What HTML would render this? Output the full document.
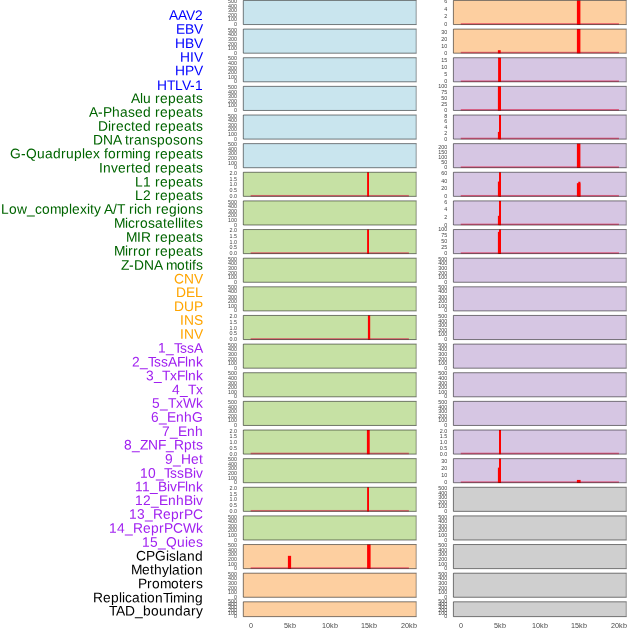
<!DOCTYPE html><html><head><meta charset="utf-8"><title>plot</title><style>html,body{margin:0;padding:0;background:#fff}svg{display:block}text{font-family:"Liberation Sans",sans-serif}</style></head><body>
<svg width="630" height="630" viewBox="0 0 630 630" style="will-change:transform">
<rect width="630" height="630" fill="#fff"/>
<g font-size="13.8">
<text transform="rotate(0.05 202.9 19.90)" x="168.9 177.9 185.9 194.9" y="19.90" fill="#0000ff">AAV2</text>
<text transform="rotate(0.05 202.9 33.75)" x="175.9 184.9 193.9" y="33.75" fill="#0000ff">EBV</text>
<text transform="rotate(0.05 202.9 47.91)" x="174.9 184.9 193.9" y="47.91" fill="#0000ff">HBV</text>
<text transform="rotate(0.05 202.9 61.66)" x="179.9 189.9 193.9" y="61.66" fill="#0000ff">HIV</text>
<text transform="rotate(0.05 202.9 75.31)" x="174.9 184.9 193.9" y="75.31" fill="#0000ff">HPV</text>
<text transform="rotate(0.05 202.9 89.96)" x="156.9 166.9 174.9 181.9 189.9 194.9" y="89.96" fill="#0000ff">HTLV-1</text>
<text transform="rotate(0.05 202.9 103.02)" x="130.9 139.9 142.9 150.9 154.9 159.9 167.9 175.9 183.9 191.9 195.9" y="103.02" fill="#006400">Alu repeats</text>
<text transform="rotate(0.05 202.9 116.87)" x="88.9 97.9 102.9 111.9 119.9 127.9 134.9 142.9 150.9 154.9 159.9 167.9 175.9 183.9 191.9 195.9" y="116.87" fill="#006400">A-Phased repeats</text>
<text transform="rotate(0.05 202.9 130.72)" x="97.9 107.9 110.9 115.9 123.9 130.9 134.9 142.9 150.9 154.9 159.9 167.9 175.9 183.9 191.9 195.9" y="130.72" fill="#006400">Directed repeats</text>
<text transform="rotate(0.05 202.9 144.58)" x="92.9 102.9 112.9 120.9 124.9 128.9 133.9 141.9 149.9 156.9 164.9 172.9 179.9 187.9 195.9" y="144.58" fill="#006400">DNA transposons</text>
<text transform="rotate(0.05 202.9 158.43)" x="9.9 20.9 25.9 36.9 44.9 52.9 60.9 65.9 73.9 81.9 84.9 92.9 99.9 103.9 107.9 115.9 120.9 131.9 134.9 142.9 150.9 154.9 159.9 167.9 175.9 183.9 191.9 195.9" y="158.43" fill="#006400">G-Quadruplex forming repeats</text>
<text transform="rotate(0.05 202.9 172.58)" x="98.9 102.9 110.9 117.9 125.9 130.9 134.9 142.9 150.9 154.9 159.9 167.9 175.9 183.9 191.9 195.9" y="172.58" fill="#006400">Inverted repeats</text>
<text transform="rotate(0.05 202.9 186.44)" x="134.9 142.9 150.9 154.9 159.9 167.9 175.9 183.9 191.9 195.9" y="186.44" fill="#006400">L1 repeats</text>
<text transform="rotate(0.05 202.9 199.99)" x="134.9 142.9 150.9 154.9 159.9 167.9 175.9 183.9 191.9 195.9" y="199.99" fill="#006400">L2 repeats</text>
<text transform="rotate(0.05 202.9 213.84)" x="0.9 8.9 16.9 26.9 34.9 41.9 49.9 60.9 68.9 71.9 79.9 86.9 89.9 93.9 100.9 103.9 112.9 116.9 124.9 128.9 133.9 136.9 143.9 151.9 155.9 160.9 168.9 176.9 179.9 187.9 195.9" y="213.84" fill="#006400">Low_complexity A/T rich regions</text>
<text transform="rotate(0.05 202.9 227.89)" x="113.9 124.9 127.9 134.9 139.9 147.9 154.9 162.9 166.9 174.9 177.9 180.9 183.9 187.9 195.9" y="227.89" fill="#006400">Microsatellites</text>
<text transform="rotate(0.05 202.9 241.85)" x="125.9 136.9 140.9 150.9 154.9 159.9 167.9 175.9 183.9 191.9 195.9" y="241.85" fill="#006400">MIR repeats</text>
<text transform="rotate(0.05 202.9 255.70)" x="113.9 124.9 127.9 132.9 137.9 145.9 150.9 154.9 159.9 167.9 175.9 183.9 191.9 195.9" y="255.70" fill="#006400">Mirror repeats</text>
<text transform="rotate(0.05 202.9 269.75)" x="120.9 128.9 133.9 143.9 153.9 161.9 165.9 176.9 184.9 188.9 191.9 195.9" y="269.75" fill="#006400">Z-DNA motifs</text>
<text transform="rotate(0.05 202.9 283.61)" x="173.9 183.9 193.9" y="283.61" fill="#ffa500">CNV</text>
<text transform="rotate(0.05 202.9 296.96)" x="175.9 185.9 194.9" y="296.96" fill="#ffa500">DEL</text>
<text transform="rotate(0.05 202.9 311.11)" x="173.9 183.9 193.9" y="311.11" fill="#ffa500">DUP</text>
<text transform="rotate(0.05 202.9 324.87)" x="179.9 183.9 193.9" y="324.87" fill="#ffa500">INS</text>
<text transform="rotate(0.05 202.9 338.82)" x="179.9 183.9 193.9" y="338.82" fill="#ffa500">INV</text>
<text transform="rotate(0.05 202.9 352.67)" x="157.9 165.9 173.9 179.9 186.9 193.9" y="352.67" fill="#a020f0">1_TssA</text>
<text transform="rotate(0.05 202.9 366.52)" x="131.9 139.9 147.9 153.9 160.9 167.9 176.9 184.9 187.9 195.9" y="366.52" fill="#a020f0">2_TssAFlnk</text>
<text transform="rotate(0.05 202.9 380.38)" x="145.9 153.9 161.9 169.9 176.9 184.9 187.9 195.9" y="380.38" fill="#a020f0">3_TxFlnk</text>
<text transform="rotate(0.05 202.9 394.23)" x="171.9 179.9 187.9 195.9" y="394.23" fill="#a020f0">4_Tx</text>
<text transform="rotate(0.05 202.9 407.78)" x="151.9 159.9 167.9 175.9 182.9 195.9" y="407.78" fill="#a020f0">5_TxWk</text>
<text transform="rotate(0.05 202.9 421.84)" x="150.9 158.9 166.9 175.9 183.9 191.9" y="421.84" fill="#a020f0">6_EnhG</text>
<text transform="rotate(0.05 202.9 435.99)" x="161.9 169.9 177.9 186.9 194.9" y="435.99" fill="#a020f0">7_Enh</text>
<text transform="rotate(0.05 202.9 449.64)" x="123.9 131.9 139.9 147.9 157.9 165.9 173.9 183.9 191.9 195.9" y="449.64" fill="#a020f0">8_ZNF_Rpts</text>
<text transform="rotate(0.05 202.9 463.70)" x="164.9 172.9 180.9 190.9 198.9" y="463.70" fill="#a020f0">9_Het</text>
<text transform="rotate(0.05 202.9 477.85)" x="139.9 147.9 155.9 163.9 169.9 176.9 183.9 192.9 195.9" y="477.85" fill="#a020f0">10_TssBiv</text>
<text transform="rotate(0.05 202.9 491.40)" x="134.9 141.9 149.9 157.9 166.9 169.9 176.9 184.9 187.9 195.9" y="491.40" fill="#a020f0">11_BivFlnk</text>
<text transform="rotate(0.05 202.9 504.95)" x="134.9 142.9 150.9 158.9 167.9 175.9 183.9 192.9 195.9" y="504.95" fill="#a020f0">12_EnhBiv</text>
<text transform="rotate(0.05 202.9 518.91)" x="128.9 136.9 144.9 152.9 162.9 170.9 178.9 183.9 192.9" y="518.91" fill="#a020f0">13_ReprPC</text>
<text transform="rotate(0.05 202.9 532.76)" x="108.9 116.9 124.9 132.9 142.9 150.9 158.9 163.9 172.9 182.9 195.9" y="532.76" fill="#a020f0">14_ReprPCWk</text>
<text transform="rotate(0.05 202.9 546.81)" x="141.9 149.9 157.9 165.9 176.9 184.9 187.9 195.9" y="546.81" fill="#a020f0">15_Quies</text>
<text transform="rotate(0.05 202.9 560.67)" x="135.9 145.9 154.9 165.9 168.9 175.9 178.9 186.9 194.9" y="560.67" fill="#000000">CPGisland</text>
<text transform="rotate(0.05 202.9 574.42)" x="130.9 141.9 149.9 153.9 161.9 168.9 171.9 179.9 183.9 186.9 194.9" y="574.42" fill="#000000">Methylation</text>
<text transform="rotate(0.05 202.9 588.37)" x="137.9 146.9 151.9 159.9 170.9 178.9 182.9 190.9 195.9" y="588.37" fill="#000000">Promoters</text>
<text transform="rotate(0.05 202.9 602.43)" x="92.9 102.9 110.9 118.9 121.9 124.9 131.9 139.9 143.9 146.9 154.9 162.9 169.9 172.9 183.9 186.9 194.9" y="602.43" fill="#000000">ReplicationTiming</text>
<text transform="rotate(0.05 202.9 615.58)" x="108.9 115.9 124.9 134.9 142.9 150.9 158.9 166.9 174.9 182.9 190.9 195.9" y="615.58" fill="#000000">TAD_boundary</text>
</g>
<rect x="243.30" y="0.45" width="172.90" height="24.10" fill="#c9e5ee"/>
<path d="M416.20 0.45H243.30V24.55H416.20" fill="none" stroke="#000" stroke-width="0.8" stroke-opacity="0.64" stroke-linecap="square"/>
<path d="M416.20 0.85V24.15" fill="none" stroke="#000" stroke-width="0.8" stroke-opacity="0.48"/>
<g font-size="5.4" text-anchor="end" fill="#444444">
<text x="237.10" y="3">500</text>
<text x="237.10" y="8">400</text>
<text x="237.10" y="12">300</text>
<text x="237.10" y="17">200</text>
<text x="237.10" y="21">100</text>
<text x="237.10" y="26">0</text>
</g>
<rect x="243.30" y="29.09" width="172.90" height="24.10" fill="#c9e5ee"/>
<path d="M416.20 29.09H243.30V53.19H416.20" fill="none" stroke="#000" stroke-width="0.8" stroke-opacity="0.64" stroke-linecap="square"/>
<path d="M416.20 29.49V52.79" fill="none" stroke="#000" stroke-width="0.8" stroke-opacity="0.48"/>
<g font-size="5.4" text-anchor="end" fill="#444444">
<text x="237.10" y="32">500</text>
<text x="237.10" y="36">400</text>
<text x="237.10" y="41">300</text>
<text x="237.10" y="46">200</text>
<text x="237.10" y="50">100</text>
<text x="237.10" y="55">0</text>
</g>
<rect x="243.30" y="57.72" width="172.90" height="24.10" fill="#c9e5ee"/>
<path d="M416.20 57.72H243.30V81.82H416.20" fill="none" stroke="#000" stroke-width="0.8" stroke-opacity="0.64" stroke-linecap="square"/>
<path d="M416.20 58.12V81.42" fill="none" stroke="#000" stroke-width="0.8" stroke-opacity="0.48"/>
<g font-size="5.4" text-anchor="end" fill="#444444">
<text x="237.10" y="60">500</text>
<text x="237.10" y="65">400</text>
<text x="237.10" y="70">300</text>
<text x="237.10" y="74">200</text>
<text x="237.10" y="79">100</text>
<text x="237.10" y="83">0</text>
</g>
<rect x="243.30" y="86.36" width="172.90" height="24.10" fill="#c9e5ee"/>
<path d="M416.20 86.36H243.30V110.46H416.20" fill="none" stroke="#000" stroke-width="0.8" stroke-opacity="0.64" stroke-linecap="square"/>
<path d="M416.20 86.76V110.06" fill="none" stroke="#000" stroke-width="0.8" stroke-opacity="0.48"/>
<g font-size="5.4" text-anchor="end" fill="#444444">
<text x="237.10" y="89">500</text>
<text x="237.10" y="94">400</text>
<text x="237.10" y="98">300</text>
<text x="237.10" y="103">200</text>
<text x="237.10" y="107">100</text>
<text x="237.10" y="112">0</text>
</g>
<rect x="243.30" y="115.00" width="172.90" height="24.10" fill="#c9e5ee"/>
<path d="M416.20 115.00H243.30V139.10H416.20" fill="none" stroke="#000" stroke-width="0.8" stroke-opacity="0.64" stroke-linecap="square"/>
<path d="M416.20 115.40V138.70" fill="none" stroke="#000" stroke-width="0.8" stroke-opacity="0.48"/>
<g font-size="5.4" text-anchor="end" fill="#444444">
<text x="237.10" y="118">500</text>
<text x="237.10" y="122">400</text>
<text x="237.10" y="127">300</text>
<text x="237.10" y="131">200</text>
<text x="237.10" y="136">100</text>
<text x="237.10" y="141">0</text>
</g>
<rect x="243.30" y="143.63" width="172.90" height="24.10" fill="#c9e5ee"/>
<path d="M416.20 143.63H243.30V167.73H416.20" fill="none" stroke="#000" stroke-width="0.8" stroke-opacity="0.64" stroke-linecap="square"/>
<path d="M416.20 144.03V167.33" fill="none" stroke="#000" stroke-width="0.8" stroke-opacity="0.48"/>
<g font-size="5.4" text-anchor="end" fill="#444444">
<text x="237.10" y="146">500</text>
<text x="237.10" y="151">400</text>
<text x="237.10" y="155">300</text>
<text x="237.10" y="160">200</text>
<text x="237.10" y="165">100</text>
<text x="237.10" y="169">0</text>
</g>
<rect x="243.30" y="172.27" width="172.90" height="24.10" fill="#c6e1a4"/>
<rect x="250.65" y="194.97" width="158.25" height="1.5" fill="#e11e48" fill-opacity="0.62"/>
<rect x="367.10" y="172.27" width="1.90" height="24.20" fill="#ff0000"/>
<path d="M416.20 172.27H243.30V196.37H416.20" fill="none" stroke="#000" stroke-width="0.8" stroke-opacity="0.64" stroke-linecap="square"/>
<path d="M416.20 172.67V195.97" fill="none" stroke="#000" stroke-width="0.8" stroke-opacity="0.48"/>
<g font-size="5.4" text-anchor="end" fill="#444444">
<text x="237.10" y="175">2.0</text>
<text x="237.10" y="181">1.5</text>
<text x="237.10" y="186">1.0</text>
<text x="237.10" y="192">0.5</text>
<text x="237.10" y="198">0.0</text>
</g>
<rect x="243.30" y="200.90" width="172.90" height="24.10" fill="#c6e1a4"/>
<path d="M416.20 200.90H243.30V225.00H416.20" fill="none" stroke="#000" stroke-width="0.8" stroke-opacity="0.64" stroke-linecap="square"/>
<path d="M416.20 201.30V224.60" fill="none" stroke="#000" stroke-width="0.8" stroke-opacity="0.48"/>
<g font-size="5.4" text-anchor="end" fill="#444444">
<text x="237.10" y="204">500</text>
<text x="237.10" y="208">400</text>
<text x="237.10" y="213">300</text>
<text x="237.10" y="217">200</text>
<text x="237.10" y="222">100</text>
<text x="237.10" y="227">0</text>
</g>
<rect x="243.30" y="229.54" width="172.90" height="24.10" fill="#c6e1a4"/>
<rect x="250.65" y="252.24" width="158.25" height="1.5" fill="#e11e48" fill-opacity="0.62"/>
<rect x="367.10" y="229.54" width="1.90" height="24.20" fill="#ff0000"/>
<path d="M416.20 229.54H243.30V253.64H416.20" fill="none" stroke="#000" stroke-width="0.8" stroke-opacity="0.64" stroke-linecap="square"/>
<path d="M416.20 229.94V253.24" fill="none" stroke="#000" stroke-width="0.8" stroke-opacity="0.48"/>
<g font-size="5.4" text-anchor="end" fill="#444444">
<text x="237.10" y="232">2.0</text>
<text x="237.10" y="238">1.5</text>
<text x="237.10" y="244">1.0</text>
<text x="237.10" y="249">0.5</text>
<text x="237.10" y="255">0.0</text>
</g>
<rect x="243.30" y="258.18" width="172.90" height="24.10" fill="#c6e1a4"/>
<path d="M416.20 258.18H243.30V282.28H416.20" fill="none" stroke="#000" stroke-width="0.8" stroke-opacity="0.64" stroke-linecap="square"/>
<path d="M416.20 258.58V281.88" fill="none" stroke="#000" stroke-width="0.8" stroke-opacity="0.48"/>
<g font-size="5.4" text-anchor="end" fill="#444444">
<text x="237.10" y="261">500</text>
<text x="237.10" y="265">400</text>
<text x="237.10" y="270">300</text>
<text x="237.10" y="275">200</text>
<text x="237.10" y="279">100</text>
<text x="237.10" y="284">0</text>
</g>
<rect x="243.30" y="286.81" width="172.90" height="24.10" fill="#c6e1a4"/>
<path d="M416.20 286.81H243.30V310.91H416.20" fill="none" stroke="#000" stroke-width="0.8" stroke-opacity="0.64" stroke-linecap="square"/>
<path d="M416.20 287.21V310.51" fill="none" stroke="#000" stroke-width="0.8" stroke-opacity="0.48"/>
<g font-size="5.4" text-anchor="end" fill="#444444">
<text x="237.10" y="289">500</text>
<text x="237.10" y="293">400</text>
<text x="237.10" y="299">300</text>
<text x="237.10" y="303">200</text>
<text x="237.10" y="308">100</text>
<text x="237.10" y="312">0</text>
</g>
<rect x="243.30" y="315.45" width="172.90" height="24.10" fill="#c6e1a4"/>
<rect x="250.65" y="338.15" width="158.25" height="1.5" fill="#e11e48" fill-opacity="0.62"/>
<rect x="367.90" y="315.45" width="2.30" height="24.20" fill="#ff0000"/>
<path d="M416.20 315.45H243.30V339.55H416.20" fill="none" stroke="#000" stroke-width="0.8" stroke-opacity="0.64" stroke-linecap="square"/>
<path d="M416.20 315.85V339.15" fill="none" stroke="#000" stroke-width="0.8" stroke-opacity="0.48"/>
<g font-size="5.4" text-anchor="end" fill="#444444">
<text x="237.10" y="318">2.0</text>
<text x="237.10" y="324">1.5</text>
<text x="237.10" y="330">1.0</text>
<text x="237.10" y="335">0.5</text>
<text x="237.10" y="341">0.0</text>
</g>
<rect x="243.30" y="344.09" width="172.90" height="24.10" fill="#c6e1a4"/>
<path d="M416.20 344.09H243.30V368.19H416.20" fill="none" stroke="#000" stroke-width="0.8" stroke-opacity="0.64" stroke-linecap="square"/>
<path d="M416.20 344.49V367.79" fill="none" stroke="#000" stroke-width="0.8" stroke-opacity="0.48"/>
<g font-size="5.4" text-anchor="end" fill="#444444">
<text x="237.10" y="347">500</text>
<text x="237.10" y="351">400</text>
<text x="237.10" y="356">300</text>
<text x="237.10" y="361">200</text>
<text x="237.10" y="365">100</text>
<text x="237.10" y="370">0</text>
</g>
<rect x="243.30" y="372.72" width="172.90" height="24.10" fill="#c6e1a4"/>
<path d="M416.20 372.72H243.30V396.82H416.20" fill="none" stroke="#000" stroke-width="0.8" stroke-opacity="0.64" stroke-linecap="square"/>
<path d="M416.20 373.12V396.42" fill="none" stroke="#000" stroke-width="0.8" stroke-opacity="0.48"/>
<g font-size="5.4" text-anchor="end" fill="#444444">
<text x="237.10" y="375">500</text>
<text x="237.10" y="380">400</text>
<text x="237.10" y="385">300</text>
<text x="237.10" y="389">200</text>
<text x="237.10" y="394">100</text>
<text x="237.10" y="398">0</text>
</g>
<rect x="243.30" y="401.36" width="172.90" height="24.10" fill="#c6e1a4"/>
<path d="M416.20 401.36H243.30V425.46H416.20" fill="none" stroke="#000" stroke-width="0.8" stroke-opacity="0.64" stroke-linecap="square"/>
<path d="M416.20 401.76V425.06" fill="none" stroke="#000" stroke-width="0.8" stroke-opacity="0.48"/>
<g font-size="5.4" text-anchor="end" fill="#444444">
<text x="237.10" y="404">500</text>
<text x="237.10" y="409">400</text>
<text x="237.10" y="413">300</text>
<text x="237.10" y="418">200</text>
<text x="237.10" y="422">100</text>
<text x="237.10" y="427">0</text>
</g>
<rect x="243.30" y="430.00" width="172.90" height="24.10" fill="#c6e1a4"/>
<rect x="250.65" y="452.70" width="158.25" height="1.5" fill="#e11e48" fill-opacity="0.62"/>
<rect x="366.90" y="430.00" width="2.80" height="24.20" fill="#ff0000"/>
<path d="M416.20 430.00H243.30V454.10H416.20" fill="none" stroke="#000" stroke-width="0.8" stroke-opacity="0.64" stroke-linecap="square"/>
<path d="M416.20 430.40V453.70" fill="none" stroke="#000" stroke-width="0.8" stroke-opacity="0.48"/>
<g font-size="5.4" text-anchor="end" fill="#444444">
<text x="237.10" y="433">2.0</text>
<text x="237.10" y="438">1.5</text>
<text x="237.10" y="444">1.0</text>
<text x="237.10" y="450">0.5</text>
<text x="237.10" y="456">0.0</text>
</g>
<rect x="243.30" y="458.63" width="172.90" height="24.10" fill="#c6e1a4"/>
<path d="M416.20 458.63H243.30V482.73H416.20" fill="none" stroke="#000" stroke-width="0.8" stroke-opacity="0.64" stroke-linecap="square"/>
<path d="M416.20 459.03V482.33" fill="none" stroke="#000" stroke-width="0.8" stroke-opacity="0.48"/>
<g font-size="5.4" text-anchor="end" fill="#444444">
<text x="237.10" y="461">500</text>
<text x="237.10" y="466">400</text>
<text x="237.10" y="470">300</text>
<text x="237.10" y="475">200</text>
<text x="237.10" y="480">100</text>
<text x="237.10" y="484">0</text>
</g>
<rect x="243.30" y="487.27" width="172.90" height="24.10" fill="#c6e1a4"/>
<rect x="250.65" y="509.97" width="158.25" height="1.5" fill="#e11e48" fill-opacity="0.62"/>
<rect x="367.10" y="487.27" width="1.90" height="24.20" fill="#ff0000"/>
<path d="M416.20 487.27H243.30V511.37H416.20" fill="none" stroke="#000" stroke-width="0.8" stroke-opacity="0.64" stroke-linecap="square"/>
<path d="M416.20 487.67V510.97" fill="none" stroke="#000" stroke-width="0.8" stroke-opacity="0.48"/>
<g font-size="5.4" text-anchor="end" fill="#444444">
<text x="237.10" y="490">2.0</text>
<text x="237.10" y="496">1.5</text>
<text x="237.10" y="501">1.0</text>
<text x="237.10" y="507">0.5</text>
<text x="237.10" y="513">0.0</text>
</g>
<rect x="243.30" y="515.90" width="172.90" height="24.10" fill="#c6e1a4"/>
<path d="M416.20 515.90H243.30V540.00H416.20" fill="none" stroke="#000" stroke-width="0.8" stroke-opacity="0.64" stroke-linecap="square"/>
<path d="M416.20 516.30V539.60" fill="none" stroke="#000" stroke-width="0.8" stroke-opacity="0.48"/>
<g font-size="5.4" text-anchor="end" fill="#444444">
<text x="237.10" y="519">500</text>
<text x="237.10" y="523">400</text>
<text x="237.10" y="528">300</text>
<text x="237.10" y="532">200</text>
<text x="237.10" y="537">100</text>
<text x="237.10" y="542">0</text>
</g>
<rect x="243.30" y="544.54" width="172.90" height="24.10" fill="#fdcfa0"/>
<rect x="250.65" y="567.24" width="158.25" height="1.5" fill="#e11e48" fill-opacity="0.62"/>
<rect x="287.90" y="555.84" width="3.20" height="12.90" fill="#ff0000"/>
<rect x="367.10" y="544.54" width="3.50" height="24.20" fill="#ff0000"/>
<path d="M416.20 544.54H243.30V568.64H416.20" fill="none" stroke="#000" stroke-width="0.8" stroke-opacity="0.64" stroke-linecap="square"/>
<path d="M416.20 544.94V568.24" fill="none" stroke="#000" stroke-width="0.8" stroke-opacity="0.48"/>
<g font-size="5.4" text-anchor="end" fill="#444444">
<text x="237.10" y="547">500</text>
<text x="237.10" y="552">400</text>
<text x="237.10" y="556">300</text>
<text x="237.10" y="561">200</text>
<text x="237.10" y="566">100</text>
<text x="237.10" y="570">0</text>
</g>
<rect x="243.30" y="573.18" width="172.90" height="24.10" fill="#fdcfa0"/>
<path d="M416.20 573.18H243.30V597.28H416.20" fill="none" stroke="#000" stroke-width="0.8" stroke-opacity="0.64" stroke-linecap="square"/>
<path d="M416.20 573.58V596.88" fill="none" stroke="#000" stroke-width="0.8" stroke-opacity="0.48"/>
<g font-size="5.4" text-anchor="end" fill="#444444">
<text x="237.10" y="576">500</text>
<text x="237.10" y="580">400</text>
<text x="237.10" y="585">300</text>
<text x="237.10" y="590">200</text>
<text x="237.10" y="594">100</text>
<text x="237.10" y="599">0</text>
</g>
<rect x="243.30" y="601.81" width="172.90" height="14.80" fill="#fdcfa0"/>
<path d="M416.20 601.81H243.30V616.61H416.20" fill="none" stroke="#000" stroke-width="0.8" stroke-opacity="0.64" stroke-linecap="square"/>
<path d="M416.20 602.21V616.21" fill="none" stroke="#000" stroke-width="0.8" stroke-opacity="0.48"/>
<g font-size="5.4" text-anchor="end" fill="#444444">
<text x="237.10" y="603">500</text>
<text x="237.10" y="606">400</text>
<text x="237.10" y="609">300</text>
<text x="237.10" y="612">200</text>
<text x="237.10" y="615">100</text>
<text x="237.10" y="618">0</text>
</g>
<rect x="453.40" y="0.45" width="172.85" height="24.10" fill="#fdcfa0"/>
<rect x="460.75" y="23.15" width="158.20" height="1.5" fill="#e11e48" fill-opacity="0.62"/>
<rect x="576.90" y="0.45" width="3.50" height="24.20" fill="#ff0000"/>
<path d="M626.25 0.45H453.40V24.55H626.25" fill="none" stroke="#000" stroke-width="0.8" stroke-opacity="0.64" stroke-linecap="square"/>
<path d="M626.25 0.85V24.15" fill="none" stroke="#000" stroke-width="0.8" stroke-opacity="0.48"/>
<g font-size="5.4" text-anchor="end" fill="#444444">
<text x="447.20" y="3">6</text>
<text x="447.20" y="11">4</text>
<text x="447.20" y="18">2</text>
<text x="447.20" y="26">0</text>
</g>
<rect x="453.40" y="29.09" width="172.85" height="24.10" fill="#fdcfa0"/>
<rect x="460.75" y="51.79" width="158.20" height="1.5" fill="#e11e48" fill-opacity="0.62"/>
<rect x="576.90" y="29.09" width="3.50" height="24.20" fill="#ff0000"/>
<rect x="497.90" y="50.19" width="2.80" height="3.10" fill="#ff0000"/>
<path d="M626.25 29.09H453.40V53.19H626.25" fill="none" stroke="#000" stroke-width="0.8" stroke-opacity="0.64" stroke-linecap="square"/>
<path d="M626.25 29.49V52.79" fill="none" stroke="#000" stroke-width="0.8" stroke-opacity="0.48"/>
<g font-size="5.4" text-anchor="end" fill="#444444">
<text x="447.20" y="34">30</text>
<text x="447.20" y="41">20</text>
<text x="447.20" y="48">10</text>
<text x="447.20" y="55">0</text>
</g>
<rect x="453.40" y="57.72" width="172.85" height="24.10" fill="#d6c6e3"/>
<rect x="460.75" y="80.42" width="158.20" height="1.5" fill="#e11e48" fill-opacity="0.62"/>
<rect x="498.10" y="57.72" width="2.90" height="24.20" fill="#ff0000"/>
<path d="M626.25 57.72H453.40V81.82H626.25" fill="none" stroke="#000" stroke-width="0.8" stroke-opacity="0.64" stroke-linecap="square"/>
<path d="M626.25 58.12V81.42" fill="none" stroke="#000" stroke-width="0.8" stroke-opacity="0.48"/>
<g font-size="5.4" text-anchor="end" fill="#444444">
<text x="447.20" y="62">15</text>
<text x="447.20" y="69">10</text>
<text x="447.20" y="76">5</text>
<text x="447.20" y="83">0</text>
</g>
<rect x="453.40" y="86.36" width="172.85" height="24.10" fill="#d6c6e3"/>
<rect x="460.75" y="109.06" width="158.20" height="1.5" fill="#e11e48" fill-opacity="0.62"/>
<rect x="497.90" y="86.36" width="3.10" height="24.20" fill="#ff0000"/>
<path d="M626.25 86.36H453.40V110.46H626.25" fill="none" stroke="#000" stroke-width="0.8" stroke-opacity="0.64" stroke-linecap="square"/>
<path d="M626.25 86.76V110.06" fill="none" stroke="#000" stroke-width="0.8" stroke-opacity="0.48"/>
<g font-size="5.4" text-anchor="end" fill="#444444">
<text x="447.20" y="88">100</text>
<text x="447.20" y="94">75</text>
<text x="447.20" y="100">50</text>
<text x="447.20" y="106">25</text>
<text x="447.20" y="112">0</text>
</g>
<rect x="453.40" y="115.00" width="172.85" height="24.10" fill="#d6c6e3"/>
<rect x="460.75" y="137.70" width="158.20" height="1.5" fill="#e11e48" fill-opacity="0.62"/>
<rect x="499.00" y="115.00" width="2.00" height="24.20" fill="#ff0000"/>
<rect x="497.90" y="131.90" width="3.10" height="7.30" fill="#ff0000"/>
<path d="M626.25 115.00H453.40V139.10H626.25" fill="none" stroke="#000" stroke-width="0.8" stroke-opacity="0.64" stroke-linecap="square"/>
<path d="M626.25 115.40V138.70" fill="none" stroke="#000" stroke-width="0.8" stroke-opacity="0.48"/>
<g font-size="5.4" text-anchor="end" fill="#444444">
<text x="447.20" y="118">8</text>
<text x="447.20" y="123">6</text>
<text x="447.20" y="129">4</text>
<text x="447.20" y="135">2</text>
<text x="447.20" y="141">0</text>
</g>
<rect x="453.40" y="143.63" width="172.85" height="24.10" fill="#d6c6e3"/>
<rect x="460.75" y="166.33" width="158.20" height="1.5" fill="#e11e48" fill-opacity="0.62"/>
<rect x="576.90" y="143.63" width="3.50" height="24.20" fill="#ff0000"/>
<path d="M626.25 143.63H453.40V167.73H626.25" fill="none" stroke="#000" stroke-width="0.8" stroke-opacity="0.64" stroke-linecap="square"/>
<path d="M626.25 144.03V167.33" fill="none" stroke="#000" stroke-width="0.8" stroke-opacity="0.48"/>
<g font-size="5.4" text-anchor="end" fill="#444444">
<text x="447.20" y="149">200</text>
<text x="447.20" y="154">150</text>
<text x="447.20" y="159">100</text>
<text x="447.20" y="164">50</text>
<text x="447.20" y="169">0</text>
</g>
<rect x="453.40" y="172.27" width="172.85" height="24.10" fill="#d6c6e3"/>
<rect x="460.75" y="194.97" width="158.20" height="1.5" fill="#e11e48" fill-opacity="0.62"/>
<rect x="499.00" y="172.27" width="2.00" height="24.20" fill="#ff0000"/>
<rect x="497.90" y="181.57" width="3.10" height="14.90" fill="#ff0000"/>
<rect x="576.90" y="183.17" width="3.50" height="13.30" fill="#ff0000"/>
<rect x="578.30" y="181.77" width="2.10" height="14.70" fill="#ff0000"/>
<path d="M626.25 172.27H453.40V196.37H626.25" fill="none" stroke="#000" stroke-width="0.8" stroke-opacity="0.64" stroke-linecap="square"/>
<path d="M626.25 172.67V195.97" fill="none" stroke="#000" stroke-width="0.8" stroke-opacity="0.48"/>
<g font-size="5.4" text-anchor="end" fill="#444444">
<text x="447.20" y="175">60</text>
<text x="447.20" y="183">40</text>
<text x="447.20" y="190">20</text>
<text x="447.20" y="198">0</text>
</g>
<rect x="453.40" y="200.90" width="172.85" height="24.10" fill="#d6c6e3"/>
<rect x="460.75" y="223.60" width="158.20" height="1.5" fill="#e11e48" fill-opacity="0.62"/>
<rect x="499.00" y="200.90" width="2.00" height="24.20" fill="#ff0000"/>
<rect x="497.90" y="215.80" width="3.10" height="9.30" fill="#ff0000"/>
<path d="M626.25 200.90H453.40V225.00H626.25" fill="none" stroke="#000" stroke-width="0.8" stroke-opacity="0.64" stroke-linecap="square"/>
<path d="M626.25 201.30V224.60" fill="none" stroke="#000" stroke-width="0.8" stroke-opacity="0.48"/>
<g font-size="5.4" text-anchor="end" fill="#444444">
<text x="447.20" y="204">6</text>
<text x="447.20" y="211">4</text>
<text x="447.20" y="219">2</text>
<text x="447.20" y="227">0</text>
</g>
<rect x="453.40" y="229.54" width="172.85" height="24.10" fill="#d6c6e3"/>
<rect x="460.75" y="252.24" width="158.20" height="1.5" fill="#e11e48" fill-opacity="0.62"/>
<rect x="499.00" y="229.54" width="2.00" height="24.20" fill="#ff0000"/>
<rect x="497.90" y="231.84" width="3.10" height="21.90" fill="#ff0000"/>
<path d="M626.25 229.54H453.40V253.64H626.25" fill="none" stroke="#000" stroke-width="0.8" stroke-opacity="0.64" stroke-linecap="square"/>
<path d="M626.25 229.94V253.24" fill="none" stroke="#000" stroke-width="0.8" stroke-opacity="0.48"/>
<g font-size="5.4" text-anchor="end" fill="#444444">
<text x="447.20" y="231">100</text>
<text x="447.20" y="237">75</text>
<text x="447.20" y="243">50</text>
<text x="447.20" y="249">25</text>
<text x="447.20" y="255">0</text>
</g>
<rect x="453.40" y="258.18" width="172.85" height="24.10" fill="#d6c6e3"/>
<path d="M626.25 258.18H453.40V282.28H626.25" fill="none" stroke="#000" stroke-width="0.8" stroke-opacity="0.64" stroke-linecap="square"/>
<path d="M626.25 258.58V281.88" fill="none" stroke="#000" stroke-width="0.8" stroke-opacity="0.48"/>
<g font-size="5.4" text-anchor="end" fill="#444444">
<text x="447.20" y="261">500</text>
<text x="447.20" y="265">400</text>
<text x="447.20" y="270">300</text>
<text x="447.20" y="275">200</text>
<text x="447.20" y="279">100</text>
<text x="447.20" y="284">0</text>
</g>
<rect x="453.40" y="286.81" width="172.85" height="24.10" fill="#d6c6e3"/>
<path d="M626.25 286.81H453.40V310.91H626.25" fill="none" stroke="#000" stroke-width="0.8" stroke-opacity="0.64" stroke-linecap="square"/>
<path d="M626.25 287.21V310.51" fill="none" stroke="#000" stroke-width="0.8" stroke-opacity="0.48"/>
<g font-size="5.4" text-anchor="end" fill="#444444">
<text x="447.20" y="289">500</text>
<text x="447.20" y="293">400</text>
<text x="447.20" y="299">300</text>
<text x="447.20" y="303">200</text>
<text x="447.20" y="308">100</text>
<text x="447.20" y="312">0</text>
</g>
<rect x="453.40" y="315.45" width="172.85" height="24.10" fill="#d6c6e3"/>
<path d="M626.25 315.45H453.40V339.55H626.25" fill="none" stroke="#000" stroke-width="0.8" stroke-opacity="0.64" stroke-linecap="square"/>
<path d="M626.25 315.85V339.15" fill="none" stroke="#000" stroke-width="0.8" stroke-opacity="0.48"/>
<g font-size="5.4" text-anchor="end" fill="#444444">
<text x="447.20" y="318">500</text>
<text x="447.20" y="323">400</text>
<text x="447.20" y="327">300</text>
<text x="447.20" y="332">200</text>
<text x="447.20" y="336">100</text>
<text x="447.20" y="341">0</text>
</g>
<rect x="453.40" y="344.09" width="172.85" height="24.10" fill="#d6c6e3"/>
<path d="M626.25 344.09H453.40V368.19H626.25" fill="none" stroke="#000" stroke-width="0.8" stroke-opacity="0.64" stroke-linecap="square"/>
<path d="M626.25 344.49V367.79" fill="none" stroke="#000" stroke-width="0.8" stroke-opacity="0.48"/>
<g font-size="5.4" text-anchor="end" fill="#444444">
<text x="447.20" y="347">500</text>
<text x="447.20" y="351">400</text>
<text x="447.20" y="356">300</text>
<text x="447.20" y="361">200</text>
<text x="447.20" y="365">100</text>
<text x="447.20" y="370">0</text>
</g>
<rect x="453.40" y="372.72" width="172.85" height="24.10" fill="#d6c6e3"/>
<path d="M626.25 372.72H453.40V396.82H626.25" fill="none" stroke="#000" stroke-width="0.8" stroke-opacity="0.64" stroke-linecap="square"/>
<path d="M626.25 373.12V396.42" fill="none" stroke="#000" stroke-width="0.8" stroke-opacity="0.48"/>
<g font-size="5.4" text-anchor="end" fill="#444444">
<text x="447.20" y="375">500</text>
<text x="447.20" y="380">400</text>
<text x="447.20" y="385">300</text>
<text x="447.20" y="389">200</text>
<text x="447.20" y="394">100</text>
<text x="447.20" y="398">0</text>
</g>
<rect x="453.40" y="401.36" width="172.85" height="24.10" fill="#d6c6e3"/>
<path d="M626.25 401.36H453.40V425.46H626.25" fill="none" stroke="#000" stroke-width="0.8" stroke-opacity="0.64" stroke-linecap="square"/>
<path d="M626.25 401.76V425.06" fill="none" stroke="#000" stroke-width="0.8" stroke-opacity="0.48"/>
<g font-size="5.4" text-anchor="end" fill="#444444">
<text x="447.20" y="404">500</text>
<text x="447.20" y="409">400</text>
<text x="447.20" y="413">300</text>
<text x="447.20" y="418">200</text>
<text x="447.20" y="422">100</text>
<text x="447.20" y="427">0</text>
</g>
<rect x="453.40" y="430.00" width="172.85" height="24.10" fill="#d6c6e3"/>
<rect x="460.75" y="452.70" width="158.20" height="1.5" fill="#e11e48" fill-opacity="0.62"/>
<rect x="499.00" y="430.00" width="2.00" height="24.20" fill="#ff0000"/>
<path d="M626.25 430.00H453.40V454.10H626.25" fill="none" stroke="#000" stroke-width="0.8" stroke-opacity="0.64" stroke-linecap="square"/>
<path d="M626.25 430.40V453.70" fill="none" stroke="#000" stroke-width="0.8" stroke-opacity="0.48"/>
<g font-size="5.4" text-anchor="end" fill="#444444">
<text x="447.20" y="433">2.0</text>
<text x="447.20" y="438">1.5</text>
<text x="447.20" y="444">1.0</text>
<text x="447.20" y="450">0.5</text>
<text x="447.20" y="456">0.0</text>
</g>
<rect x="453.40" y="458.63" width="172.85" height="24.10" fill="#d6c6e3"/>
<rect x="460.75" y="481.33" width="158.20" height="1.5" fill="#e11e48" fill-opacity="0.62"/>
<rect x="499.00" y="458.63" width="2.00" height="24.20" fill="#ff0000"/>
<rect x="497.90" y="467.63" width="3.10" height="15.20" fill="#ff0000"/>
<rect x="576.90" y="479.93" width="3.70" height="2.90" fill="#ff0000"/>
<path d="M626.25 458.63H453.40V482.73H626.25" fill="none" stroke="#000" stroke-width="0.8" stroke-opacity="0.64" stroke-linecap="square"/>
<path d="M626.25 459.03V482.33" fill="none" stroke="#000" stroke-width="0.8" stroke-opacity="0.48"/>
<g font-size="5.4" text-anchor="end" fill="#444444">
<text x="447.20" y="463">30</text>
<text x="447.20" y="470">20</text>
<text x="447.20" y="477">10</text>
<text x="447.20" y="484">0</text>
</g>
<rect x="453.40" y="487.27" width="172.85" height="24.10" fill="#cfcfcf"/>
<path d="M626.25 487.27H453.40V511.37H626.25" fill="none" stroke="#000" stroke-width="0.8" stroke-opacity="0.64" stroke-linecap="square"/>
<path d="M626.25 487.67V510.97" fill="none" stroke="#000" stroke-width="0.8" stroke-opacity="0.48"/>
<g font-size="5.4" text-anchor="end" fill="#444444">
<text x="447.20" y="490">500</text>
<text x="447.20" y="495">400</text>
<text x="447.20" y="499">300</text>
<text x="447.20" y="504">200</text>
<text x="447.20" y="508">100</text>
<text x="447.20" y="513">0</text>
</g>
<rect x="453.40" y="515.90" width="172.85" height="24.10" fill="#cfcfcf"/>
<path d="M626.25 515.90H453.40V540.00H626.25" fill="none" stroke="#000" stroke-width="0.8" stroke-opacity="0.64" stroke-linecap="square"/>
<path d="M626.25 516.30V539.60" fill="none" stroke="#000" stroke-width="0.8" stroke-opacity="0.48"/>
<g font-size="5.4" text-anchor="end" fill="#444444">
<text x="447.20" y="519">500</text>
<text x="447.20" y="523">400</text>
<text x="447.20" y="528">300</text>
<text x="447.20" y="532">200</text>
<text x="447.20" y="537">100</text>
<text x="447.20" y="542">0</text>
</g>
<rect x="453.40" y="544.54" width="172.85" height="24.10" fill="#cfcfcf"/>
<path d="M626.25 544.54H453.40V568.64H626.25" fill="none" stroke="#000" stroke-width="0.8" stroke-opacity="0.64" stroke-linecap="square"/>
<path d="M626.25 544.94V568.24" fill="none" stroke="#000" stroke-width="0.8" stroke-opacity="0.48"/>
<g font-size="5.4" text-anchor="end" fill="#444444">
<text x="447.20" y="547">500</text>
<text x="447.20" y="552">400</text>
<text x="447.20" y="556">300</text>
<text x="447.20" y="561">200</text>
<text x="447.20" y="566">100</text>
<text x="447.20" y="570">0</text>
</g>
<rect x="453.40" y="573.18" width="172.85" height="24.10" fill="#cfcfcf"/>
<path d="M626.25 573.18H453.40V597.28H626.25" fill="none" stroke="#000" stroke-width="0.8" stroke-opacity="0.64" stroke-linecap="square"/>
<path d="M626.25 573.58V596.88" fill="none" stroke="#000" stroke-width="0.8" stroke-opacity="0.48"/>
<g font-size="5.4" text-anchor="end" fill="#444444">
<text x="447.20" y="576">500</text>
<text x="447.20" y="580">400</text>
<text x="447.20" y="585">300</text>
<text x="447.20" y="590">200</text>
<text x="447.20" y="594">100</text>
<text x="447.20" y="599">0</text>
</g>
<rect x="453.40" y="601.81" width="172.85" height="14.80" fill="#cfcfcf"/>
<path d="M626.25 601.81H453.40V616.61H626.25" fill="none" stroke="#000" stroke-width="0.8" stroke-opacity="0.64" stroke-linecap="square"/>
<path d="M626.25 602.21V616.21" fill="none" stroke="#000" stroke-width="0.8" stroke-opacity="0.48"/>
<g font-size="5.4" text-anchor="end" fill="#444444">
<text x="447.20" y="603">500</text>
<text x="447.20" y="606">400</text>
<text x="447.20" y="609">300</text>
<text x="447.20" y="612">200</text>
<text x="447.20" y="615">100</text>
<text x="447.20" y="618">0</text>
</g>
<g font-size="7.2" fill="#4a4a4a">
<text x="249" y="628">0</text>
<text x="284 288 292" y="628">5kb</text>
<text x="322 326 330 334" y="628">10kb</text>
<text x="361 365 369 373" y="628">15kb</text>
<text x="401 405 409 413" y="628">20kb</text>
<text x="459" y="628">0</text>
<text x="494 498 502" y="628">5kb</text>
<text x="532 536 540 544" y="628">10kb</text>
<text x="571 575 579 583" y="628">15kb</text>
<text x="611 615 619 623" y="628">20kb</text>
</g>
</svg></body></html>
